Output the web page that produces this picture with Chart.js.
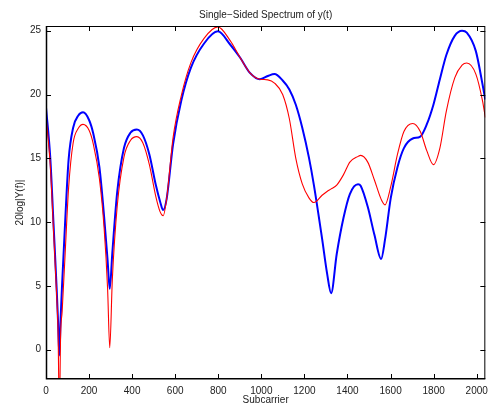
<!DOCTYPE html>
<html>
<head>
<meta charset="utf-8">
<script src="https://cdn.jsdelivr.net/npm/chart.js@4.4.1/dist/chart.umd.min.js"></script>
<style>
  html, body { margin: 0; padding: 0; background: #fff; }
  #wrap { width: 494px; height: 406px; }
</style>
</head>
<body>
<div id="wrap"><canvas id="spec"></canvas></div>
<script>
(function() {
    'use strict';

    /* ---- Data ---- */
    var subcarriers = [0, 20, 35, 50, 56, 62, 68, 75, 90, 105, 126, 150, 172, 200, 220, 248, 270, 286, 296, 308, 331,
        362, 392, 422, 450, 480, 510, 530, 544, 560, 590, 628, 673, 734, 798, 856, 901, 947, 993, 1030, 1061,
        1099, 1130, 1160, 1190, 1221, 1244, 1282, 1305, 1324, 1350, 1381, 1411, 1449, 1461, 1494, 1525, 1556,
        1574, 1601, 1632, 1662, 1703, 1738, 1768, 1799, 1829, 1859, 1898, 1932, 1954, 1996, 2027, 2040];

    var blueDb = [19.0, 15.0, 9.84, 4.6, 2.2, -0.45, 2.5, 5.2, 10.4, 14.9, 17.4, 18.35, 18.6, 18.0, 16.9, 14.3, 10.4, 7.0, 4.77, 7.6, 12.4,
        15.8, 17.0, 17.26, 16.8, 15.3, 12.9, 11.6, 10.94, 11.8, 16.1, 19.5, 22.1, 24.0, 24.95, 23.9, 22.9, 21.7, 21.2, 21.45, 21.6,
        21.1, 20.4, 19.2, 17.4, 15.05, 12.9, 8.7, 6.0, 4.43, 7.5, 10.3, 12.2, 12.97, 12.85, 11.2, 9.0, 7.1,
        8.6, 11.9, 14.3, 15.8, 16.55, 16.7, 17.65, 19.2, 21.2, 23.1, 24.6, 25.0, 24.85, 23.4, 20.8, 19.6];

    var redDb = [18.3, 14.4, 9.3, 4.1, 1.4, -5.0, 1.2, 3.0, 7.9, 12.7, 16.2, 17.35, 17.66, 17.2, 16.1, 13.4, 9.5, 4.8, 0.15, 5.5, 11.3,
        15.1, 16.4, 16.7, 16.2, 14.5, 12.0, 10.8, 10.5, 11.8, 16.6, 19.9, 22.5, 24.4, 25.3, 24.2, 22.9, 21.7, 21.2, 21.15, 20.9,
        20.0, 18.1, 15.0, 13.0, 11.9, 11.53, 12.1, 12.4, 12.6, 12.9, 13.7, 14.7, 15.15, 15.23, 14.7, 13.3, 11.8,
        11.35, 12.8, 15.3, 17.1, 17.73, 17.1, 15.6, 14.5, 15.8, 18.7, 21.3, 22.3, 22.47, 21.6, 19.5, 18.2];

    var xTicks = [0, 200, 400, 600, 800, 1000, 1200, 1400, 1600, 1800, 2000];
    var yTicks = [0, 5, 10, 15, 20, 25];

    var FONT = 'Liberation Sans, Arial, Helvetica, sans-serif';

    function toPoints(ys) {
        return subcarriers.map(function(x, i) { return { x: x, y: ys[i] }; });
    }

    /* ---- MATLAB-style box with inward ticks ---- */
    var boxPlugin = {
        id: 'matlabBox',
        afterDatasetsDraw: function(chart) {
            var ctx = chart.ctx, a = chart.chartArea;
            var xs = chart.scales.x, ys = chart.scales.y;
            var tl = 5;
            ctx.save();
            ctx.strokeStyle = '#000';
            ctx.lineWidth = 1;
            ctx.beginPath();
            xTicks.forEach(function(v) {
                var px = Math.round(xs.getPixelForValue(v)) + 0.5;
                ctx.moveTo(px, a.bottom); ctx.lineTo(px, a.bottom - tl);
                ctx.moveTo(px, a.top); ctx.lineTo(px, a.top + tl);
            });
            yTicks.forEach(function(v) {
                var py = Math.round(ys.getPixelForValue(v)) + 0.5;
                ctx.moveTo(a.left, py); ctx.lineTo(a.left + tl, py);
                ctx.moveTo(a.right, py); ctx.lineTo(a.right - tl, py);
            });
            ctx.stroke();
            ctx.strokeRect(a.left + 0.5, a.top + 0.5, a.right - a.left - 1, a.bottom - a.top - 1);
            ctx.lineWidth = 1.5;
            ctx.beginPath();
            ctx.moveTo(a.left + 0.5, a.top);
            ctx.lineTo(a.left + 0.5, a.bottom - 0.25);
            ctx.lineTo(a.right, a.bottom - 0.25);
            ctx.stroke();
            ctx.restore();
        }
    };

    var ctx = document.getElementById('spec');
    new Chart(ctx.getContext('2d'), {
        type: 'line',
        data: {
            datasets: [{
                data: toPoints(redDb),
                borderColor: '#ff0000',
                borderWidth: 1.1,
                pointRadius: 0,
                cubicInterpolationMode: 'monotone',
                fill: false
            }, {
                data: toPoints(blueDb),
                borderColor: '#0000ff',
                borderWidth: 2,
                pointRadius: 0,
                cubicInterpolationMode: 'monotone',
                fill: false
            }]
        },
        options: {
            responsive: true, maintainAspectRatio: false, animation: false,
            layout: { padding: { top: 0, right: 1, left: 0, bottom: 0 } },
            plugins: {
                legend: { display: false },
                tooltip: { enabled: false },
                title: {
                    display: true, fullSize: false,
                    text: 'Single\u2212Sided Spectrum of y(t)',
                    color: '#222', font: { family: FONT, size: 10, weight: 'normal' },
                    padding: { top: 9, bottom: 5 }
                }
            },
            scales: {
                x: {
                    type: 'linear', min: 0, max: 2040,
                    grid: { display: false, drawTicks: false }, border: { display: false },
                    afterBuildTicks: function(s) { s.ticks = xTicks.map(function(v) { return { value: v }; }); },
                    afterFit: function(s) { s.height = 27; },
                    ticks: {
                        color: '#222', padding: 6, maxRotation: 0, autoSkip: false,
                        font: { family: FONT, size: 10 },
                        callback: function(v) { return String(v); }
                    },
                    title: { display: true, text: 'Subcarrier', color: '#222', font: { family: FONT, size: 10 }, padding: { top: 0, bottom: 0 } }
                },
                y: {
                    type: 'linear', min: -2.3, max: 25.37,
                    grid: { display: false, drawTicks: false }, border: { display: false },
                    afterBuildTicks: function(s) { s.ticks = yTicks.map(function(v) { return { value: v }; }); },
                    afterFit: function(s) { s.width = 46; },
                    ticks: {
                        color: '#222', padding: 5, font: { family: FONT, size: 10 },
                        callback: function(v) { return String(v); }
                    },
                    title: { display: true, text: '20log|Y(f)|', color: '#222', font: { family: FONT, size: 10 }, padding: { top: 14, bottom: 0 } }
                }
            }
        },
        plugins: [boxPlugin]
    });
})();
</script>
</body>
</html>
